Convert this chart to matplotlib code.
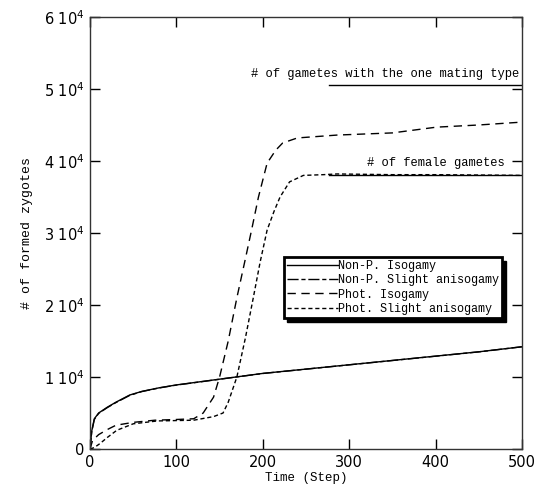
import matplotlib
matplotlib.use("Agg")
from matplotlib import pyplot as plt
import matplotlib.patches as mpatches

# time steps and curves
t_nonp = [0, 2, 5, 10, 20, 30, 46, 60, 80, 100, 125, 150, 175, 200, 250, 300, 350, 400, 450, 500]
nonp_iso = [0, 2500, 4200, 5000, 5800, 6500, 7500, 8000, 8500, 8900, 9300, 9700, 10100, 10500, 11100, 11700, 12300, 12900, 13500, 14200]
nonp_slight = [0, 2400, 4100, 4950, 5750, 6450, 7450, 7980, 8480, 8880, 9280, 9690, 10090, 10490, 11090, 11690, 12290, 12890, 13490, 14200]

t_phot_iso = [0, 3, 10, 20, 30, 50, 75, 100, 120, 131, 143, 150, 160, 170, 180, 187, 195, 205, 215, 223, 240, 286, 350, 401, 450, 500]
phot_iso = [0, 1200, 2000, 2700, 3300, 3700, 4000, 4100, 4200, 5000, 7200, 10000, 15000, 21000, 26500, 30400, 35000, 39700, 41500, 42500, 43200, 43600, 43900, 44700, 45000, 45400]

t_phot_slight = [0, 5, 12, 20, 31, 50, 78, 120, 143, 154, 160, 166, 170, 180, 189, 197, 205, 213, 220, 231, 247, 270, 286, 350, 400, 500]
phot_slight = [0, 200, 800, 1600, 2600, 3500, 3900, 4000, 4500, 5000, 6500, 8600, 10000, 15500, 21000, 26000, 30400, 33000, 35000, 37100, 38000, 38100, 38200, 38100, 38100, 38000]

ref_t = [277, 500]
one_type = [50500, 50500]
female = [38000, 38000]

yticks = [0, 10000, 20000, 30000, 40000, 50000, 60000]
ytick_labels = ["0", "1 $10^4$", "2 $10^4$", "3 $10^4$", "4 $10^4$", "5 $10^4$", "6 $10^4$"]
xticks = [0, 100, 200, 300, 400, 500]

plt.rcParams['font.family'] = ['DejaVu Sans']
fig = plt.figure(figsize=(5.37, 4.95), dpi=100)
ax = fig.add_axes([0.1676, 0.0929, 0.8044, 0.8728])

ax.plot(t_nonp, nonp_iso, color="black", lw=1.0, label="Non-P. Isogamy")
ax.plot(t_nonp, nonp_slight, color="black", lw=1.0, dashes=(8, 2, 3, 2), label="Non-P. Slight anisogamy")
ax.plot(t_phot_iso, phot_iso, color="black", lw=1.0, dashes=(6, 4), label="Phot. Isogamy")
ax.plot(t_phot_slight, phot_slight, color="black", lw=1.0, dashes=(3, 2), label="Phot. Slight anisogamy")

ax.plot(ref_t, one_type, color="black", lw=1.0)
ax.plot(ref_t, female, color="black", lw=1.0)

mono = "Liberation Mono"
ax.text(497, 51200, "# of gametes with the one mating type", ha="right", va="bottom",
        fontsize=8.7, family=mono)
ax.text(480, 38900, "# of female gametes", ha="right", va="bottom", fontsize=8.7, family=mono)

ax.set_xlim(0, 500)
ax.set_ylim(0, 60000)
ax.set_xticks(xticks)
ax.set_xticklabels([str(v) for v in xticks])
ax.set_yticks(yticks)
ax.set_yticklabels(ytick_labels)
ax.tick_params(direction="in", top=True, right=True, length=7, width=1, labelsize=10.5, pad=4)
for s in ax.spines.values():
    s.set_linewidth(1.0)
    s.set_color("#333333")

ax.set_xlabel("Time (Step)", fontsize=9, family=mono, labelpad=2)
ax.set_ylabel("# of formed zygotes", fontsize=9.5, family=mono, labelpad=8)

# legend with a heavy shadow border
leg = ax.legend(loc="upper left", bbox_to_anchor=(0.448, 0.445), prop={"family": mono, "size": 8.5},
                frameon=True, fancybox=False, handlelength=4.3, handletextpad=0.0,
                labelspacing=0.18, borderpad=0.3, borderaxespad=0, framealpha=1)
leg.get_frame().set_edgecolor("black")
leg.get_frame().set_facecolor("white")
leg.get_frame().set_linewidth(2.0)
leg.set_zorder(5)
fig.canvas.draw()
bb = leg.get_window_extent().transformed(ax.transAxes.inverted())
shadow = mpatches.Rectangle((bb.x0 + 0.008, bb.y0 - 0.009), bb.width, bb.height,
                            transform=ax.transAxes, facecolor="black", edgecolor="black", zorder=4)
ax.add_patch(shadow)

fig.savefig("out.png", dpi=100)
